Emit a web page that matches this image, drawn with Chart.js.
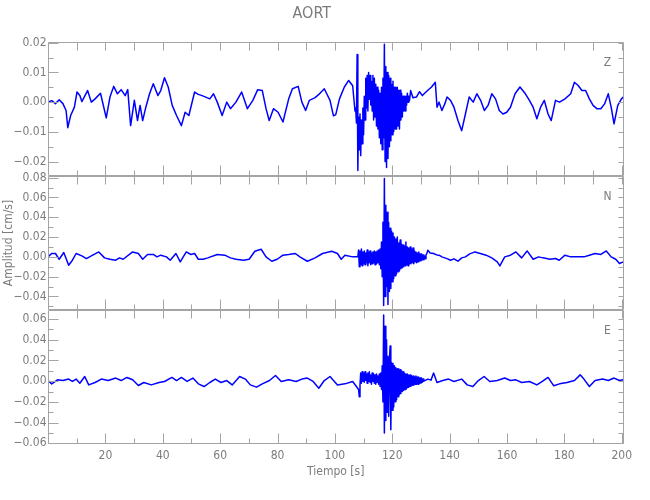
<!DOCTYPE html>
<html>
<head>
<meta charset="utf-8">
<script src="https://cdn.jsdelivr.net/npm/chart.js@4.4.1/dist/chart.umd.min.js"></script>
<style>
  html, body { margin: 0; background: #fff; }
</style>
</head>
<body>
<canvas id="c" width="650" height="500"></canvas>
<script>
// ── data (amplitudes in units of 0.001 cm/s, time in s) ─────────
// quiet stretches: [time, amplitude]
const zQuiet = [
  [0,0],[1.3,0.5],[2.6,-0.5],[3.9,0.8],[5.2,-0.5],[6.3,-2.8],[6.9,-8.6],[7.9,-4.5],[9.2,-1.7],[10.1,3.4],
  [11.1,2.2],[11.8,0.2],[13.8,3.9],[15.1,0],[16.4,1.1],[18.3,3.0],[20.3,-5.3],[21.6,1.7],[22.9,5.3],[24.2,2.8],
  [25.5,4.2],[26.9,2.2],[27.8,4.2],[28.8,-7.9],[30.1,0.6],[31.2,-6.2],[32.1,-1.1],[33,-6.2],[34.1,-1.7],[35.4,2.8],
  [36.7,6.2],[38.3,2.2],[39.3,3.9],[40.6,8.2],[41.9,5.1],[43.3,-1.1],[44.8,-4.5],[46.5,-7.9],[47.8,-3.4],[49.1,-4.5],
  [51.1,3.4],[52.4,2.6],[53.7,2.2],[55,1.7],[56.4,1.1],[57.7,2.8],[59,0],[60.7,-4.5],[62.3,0],[63.6,-2.2],
  [65.5,0],[67.5,3.4],[69.5,-2.2],[71.4,0.6],[73.1,4.2],[74.7,3.9],[76,-2.2],[77.1,-6.2],[78.6,-2.2],[80.2,-3.4],
  [81.9,-6.7],[83.9,1.1],[85.2,4.5],[87.2,5.3],[88.5,0],[89.8,-2.8],[91.1,0.6],[93.1,1.5],[94.4,2.6],[96.3,4.5],
  [98.3,0.6],[99.5,-4.6],[100.3,-4.2],[101.6,1.1],[103.3,5.1],[104.8,7.3],[106.2,5.5],[107.0,-3.0],
  [126.4,3.9],[127.2,1.5],[128.4,1.7],[129.5,3.5],[130.5,2.2],[131.1,2.8],[132.4,4],[133.7,5.1],[135.0,6.7],[135.6,-1.7],
  [136.3,0],[137.3,-2.8],[138.3,-0.6],[139.1,1.7],[140.3,0.6],[141.5,-1.7],[142.9,-6.2],[144.2,-9.6],[145.5,-4],[146.8,1.7],
  [148.2,0],[149.5,2.8],[150.8,0.6],[152.1,-2.8],[153.4,-1.1],[154.7,2.8],[156.0,1.1],[157.3,-2.8],[158.6,-4],[159.9,-3.4],
  [161.2,-1.7],[162.8,2.8],[164.5,5.1],[166.4,2.8],[167.8,0.6],[169.1,-1.7],[170.4,-5.6],[171.7,-1.7],[173.0,0.6],[174.3,-4],
  [175.4,-6.2],[176.9,0.6],[178.3,0],[180.2,1.1],[182.2,2.8],[183.5,6.7],[184.8,5.6],[186.1,3.9],[187.4,3.9],[188.7,1.1],
  [190.0,-1.1],[191.3,-2.2],[192.7,-2.2],[194.0,-0.6],[195.3,2.8],[196.3,-1.7],[197.3,-7.3],[198.6,-1.1],[199.9,1.1],[200.5,1.7]
];
const nQuiet = [
  [0,0],[1.3,3.4],[2.6,3.4],[3.9,-2.4],[5.5,4.4],[7.2,-8.4],[8.5,-3.4],[9.8,3.4],[11.8,1],[13.4,-1.7],
  [15.1,1],[17.7,5],[19.7,-1],[21.6,-2.4],[23.6,-3.4],[24.9,-1],[26.2,-2.4],[29.5,5],[31.5,3.4],[33,-2.4],
  [34.7,2.4],[36.7,2.4],[38,0],[39.3,1.7],[41.3,0],[42.6,-3.4],[44.6,3.4],[46.1,-5],[48.2,5],[49.8,2.4],
  [51.1,3.4],[52.4,-2.4],[54,-2.4],[55.7,-1],[59,2.4],[61.6,1.7],[63.6,-1],[65.5,-2.4],[68.2,-3.4],[70.1,-2.4],
  [72.1,5.7],[74.3,7.7],[76,0],[78,-4.4],[79.9,-2.4],[81.9,1.7],[83.9,2.4],[86.2,3.4],[87.8,0],[90.4,-4.4],
  [93.1,-1],[95.7,3.4],[98.9,5.7],[100.9,3.4],[102.2,-2.4],[103.5,1.7],[106.2,0],
  [132.4,6.7],[133.2,4],[134.4,3.4],[135.5,2],[136.3,1.7],[137.3,0],[138.3,-1],[139.3,-2],[140.3,-3.4],[141.5,-2],
  [142.9,-4.4],[144.2,-1],[145.5,0],[147,3],[148.8,5],[150.7,3.4],[152.7,1.7],[154.7,-1],[156.6,-5],[157.5,-9.1],
  [159.2,0],[161.2,1.7],[163.1,5],[165.1,-1],[167,6],[169.1,-2.4],[171,0],[172.5,-1],[175,-2.4],[176.9,-1.7],
  [178.2,-3.4],[180.2,1.7],[182.2,0],[184.8,0],[186.8,0],[188.7,1.7],[190.7,3.4],[192.7,2.4],[194.6,6],[196.3,0],
  [197.9,-2.4],[199.2,-6.7],[200.5,-5]
];
const eQuiet = [
  [0,0.6],[1.3,-2.6],[3.3,1.3],[5.2,0.6],[7.2,2],[8.5,-0.3],[9.8,2],[11.1,-2],[12.8,4.5],[14.2,-3.6],
  [16.4,-1.3],[18.6,2],[21,0.6],[23.6,3],[25.5,0.6],[27.5,3.6],[29.5,1.3],[31.5,-4.2],[33.4,-1.3],[36,-3.6],
  [38.7,-1.3],[40.6,-0.3],[43.2,3.6],[44.8,0.6],[46.5,3.6],[48.5,-0.3],[50.5,3],[52.4,-2.6],[54.4,-5.2],[56.4,-1.3],
  [58.3,2],[60.3,-1.3],[62.3,0.6],[64.2,-3.6],[66.8,4.5],[68.8,2],[70.5,-3.6],[72.7,-5.8],[74.7,-2.6],[77.2,0.6],
  [79.3,5.5],[81.3,-0.3],[83.9,1.3],[86.5,-0.3],[88.5,2],[90.4,3],[92.4,-0.3],[94.4,-6.8],[96.3,0.6],[98.3,4.5],
  [100.9,-3.6],[103.5,-2.6],[106.2,-0.3],[107.5,-5.2],
  [132.4,2],[133.5,1],[134.4,7.8],[135.6,-1.3],[137.6,0.6],[139.6,2],[141.5,-0.3],[144.2,2],[146.1,-3.6],[148.1,-5.2],
  [150,0.6],[152,4.5],[154,-0.3],[156.6,0.6],[159.2,3],[161.2,0.6],[163.1,1.3],[165.1,-1.3],[167.8,-0.3],[170.4,-3.6],
  [172.3,-0.3],[174.3,3.6],[176.3,-4.5],[178.3,-2.6],[180.9,-1.3],[183.5,0.6],[185.5,6.1],[186.8,2],[188.7,-5.2],[190.7,0.6],
  [193.3,2],[195.3,0.6],[197.3,3],[199.2,0.6],[200.5,1.3]
];

// strong-motion bursts: samples every BURST_STEP s from the given start
const BURST_STEP = 0.25;
const zBurstStart = 107.25;
const zBurst = [
  -2, -7, 16, -23, -5, -16, -4, -18,
  -6, -14, -2, -11, 2, -6, 8, -2,
  9, -3, 10, 1, 9, -1, 7, -3,
  9, -6, 8, -5, 6, -8, 5, -9,
  4, -12, 3, -14, 5, -16, 8, -12,
  19.5, -20, 12, -22, 10, -19, 9, -15,
  8, -13, 6, -11, 7, -10, 5, -9,
  5, -9, 5, -8, 4, -9, 4, -6,
  3, -5, 2, -3, 2, -3, 2, -1,
  3, 0, 2, 0.5
];
const nBurstStart = 108.0;
const nBurst = [
  0, 7, -10, 6, -8, 8, -9, 5,
  -7, 6, -8, 4, -6, 7, -9, 5,
  -6, 6, -8, 4, -7, 5, -6, 6,
  -8, 5, -7, 6, -6, 7, -8, 8,
  -12, 15, -20, 35, -49, 79, -40, 52,
  -30, 45, -48, 35, -35, 29, -32, 26,
  -25, 24, -22, 20, -19, 18, -17, 20,
  -15, 14, -14, 17, -12, 13, -11, 12,
  -10, 11, -9, 15, -8, 10, -9, 9,
  -7, 10, -7, 8, -6, 9, -7, 6,
  -5, 5, -6, 4, -5, 5, -4, 3,
  -4, 3, -3, 2, -3, 1, -2, 2,
  3
];
const eBurstStart = 108.25;
const eBurst = [
  -8, -15, -4, 8, -2, 9, 0, 8,
  -1, 9, 1, 7, -2, 8, 0, 9,
  -1, 6, -3, 8, 0, 7, -2, 6,
  -3, 7, -1, 5, -3, 7, -5, 8,
  -8, 15, -20, 64, -50, 53, -38, 40,
  -30, 24, -34, 20, 34, -47, 18, -28,
  17, -25, 15, -20, 13, -18, 12, -15,
  12, -13, 11, -12, 10, -10, 9, -9,
  8, -8, 7, -7, 7, -6, 6, -5,
  6, -5, 5, -4, 5, -4, 4, -3,
  5, -3, 4, -3, 4, -2, 3, -2,
  3, -1, 2, 0
];

// axis ranges / ticks
const X_MIN = 0, X_MAX = 200.6;
const X_MAJOR = 20, X_MINOR = 10;
const PANELS = [
  { id: 'yZ', name: 'Z', min: -0.0248, max: 0.0204, major: 0.01, minor: 0.005 },
  { id: 'yN', name: 'N', min: -0.0538, max: 0.0818, major: 0.02, minor: 0.01 },
  { id: 'yE', name: 'E', min: -0.0612, max: 0.0686, major: 0.02, minor: 0.01 }
];

const TRACE = '#0000ff';
const AXIS = '#a4a4a4';
const TEXT = '#7c7c7c';
const FONT = "'Liberation Sans Narrow','DejaVu Sans Condensed','Liberation Sans',sans-serif";
const FSIZE = 12;

function series(quiet, start, burst) {
  const pts = quiet.map(([t, a]) => ({ x: t, y: a * 1e-3 }));
  burst.forEach((a, i) => pts.push({ x: start + i * BURST_STEP, y: a * 1e-3 }));
  return pts.sort((p, q) => p.x - q.x);
}

function fmt(v) {
  if (Math.abs(v) < 1e-9) return '0.00';
  return v.toFixed(2).replace('-', '\u2212');
}

// ── IDL-style boxes with inward ticks, panel letters ───────────
const panelFrames = {
  id: 'panelFrames',
  afterDatasetsDraw(chart) {
    const { ctx, chartArea: a, scales } = chart;
    const xs = scales.x;
    ctx.save();
    ctx.strokeStyle = AXIS;
    ctx.lineWidth = 1;
    PANELS.forEach(p => {
      const ys = scales[p.id];
      const top = Math.round(ys.top) + 0.5, bot = Math.round(ys.bottom) - 0.5;
      const L = Math.round(a.left) + 0.5, R = Math.round(a.right) - 0.5;
      ctx.beginPath();
      ctx.rect(L, top, R - L, bot - top);
      // x ticks, top and bottom
      for (let v = X_MINOR; v <= X_MAX; v += X_MINOR) {
        const px = Math.round(xs.getPixelForValue(v)) + 0.5;
        const major = v % X_MAJOR === 0;
        ctx.moveTo(px, bot); ctx.lineTo(px, bot - (major ? 10 : 5));
        ctx.moveTo(px, top); ctx.lineTo(px, top + 8);
      }
      // y ticks, left and right
      for (let k = Math.ceil(p.min / p.minor); k * p.minor <= p.max; k++) {
        const v = k * p.minor;
        const py = Math.round(ys.getPixelForValue(v)) + 0.5;
        const major = Math.abs(v / p.major - Math.round(v / p.major)) < 1e-6;
        ctx.moveTo(L, py); ctx.lineTo(L + (major ? 10 : 5), py);
        ctx.moveTo(R, py); ctx.lineTo(R - 5, py);
      }
      ctx.stroke();
      ctx.fillStyle = TEXT;
      ctx.font = FSIZE + 'px ' + FONT;
      ctx.textAlign = 'center';
      ctx.textBaseline = 'middle';
      ctx.fillText(p.name, R - 16, top + 20);
    });
    ctx.restore();
  }
};

const scales = {
  x: {
    type: 'linear', min: X_MIN, max: X_MAX,
    grid: { display: false, drawTicks: false }, border: { display: false },
    ticks: {
      stepSize: X_MAJOR, includeBounds: false, autoSkip: false, maxRotation: 0,
      padding: 4, color: TEXT, font: { family: FONT, size: FSIZE },
      callback: v => (v === 0 ? '' : String(v))
    },
    title: { display: true, text: 'Tiempo [s]', color: TEXT, font: { family: FONT, size: FSIZE }, padding: { top: 0, bottom: 21 } },
    afterFit(s) { s.height = 55.5; }
  }
};
// stacked axes are laid out bottom-up, so add the lowest panel first
PANELS.slice().reverse().forEach(p => {
  scales[p.id] = {
    type: 'linear', position: 'left', stack: 'seis', stackWeight: 1,
    min: p.min, max: p.max,
    grid: { display: false, drawTicks: false }, border: { display: false },
    ticks: {
      stepSize: p.major, includeBounds: false, autoSkip: false,
      padding: 1.5, color: TEXT, font: { family: FONT, size: FSIZE },
      callback: v => fmt(v)
    },
    title: {
      display: p.id === 'yN', text: 'Amplitud [cm/s]', color: TEXT,
      font: { family: FONT, size: FSIZE }, padding: { top: 1.5, bottom: 0 }
    },
    afterFit(s) { s.width = 48; }
  };
});

const datasets = [
  { data: series(zQuiet, zBurstStart, zBurst), yAxisID: 'yZ' },
  { data: series(nQuiet, nBurstStart, nBurst), yAxisID: 'yN' },
  { data: series(eQuiet, eBurstStart, eBurst), yAxisID: 'yE' }
].map(d => ({
  ...d, borderColor: TRACE, borderWidth: 1.5, pointRadius: 0,
  tension: 0, borderJoinStyle: 'round', fill: false
}));

new Chart(document.getElementById('c'), {
  type: 'line',
  data: { datasets },
  options: {
    responsive: false, animation: false, devicePixelRatio: 1,
    layout: { padding: { top: 0, right: 26.5, bottom: 0, left: 0 } },
    plugins: {
      legend: { display: false }, tooltip: { enabled: false },
      title: {
        display: true, text: 'AORT', color: TEXT,
        font: { family: FONT, size: 16, weight: 'normal' },
        padding: { top: 4, bottom: 18.3 }
      }
    },
    scales
  },
  plugins: [panelFrames]
});
</script>
</body>
</html>
